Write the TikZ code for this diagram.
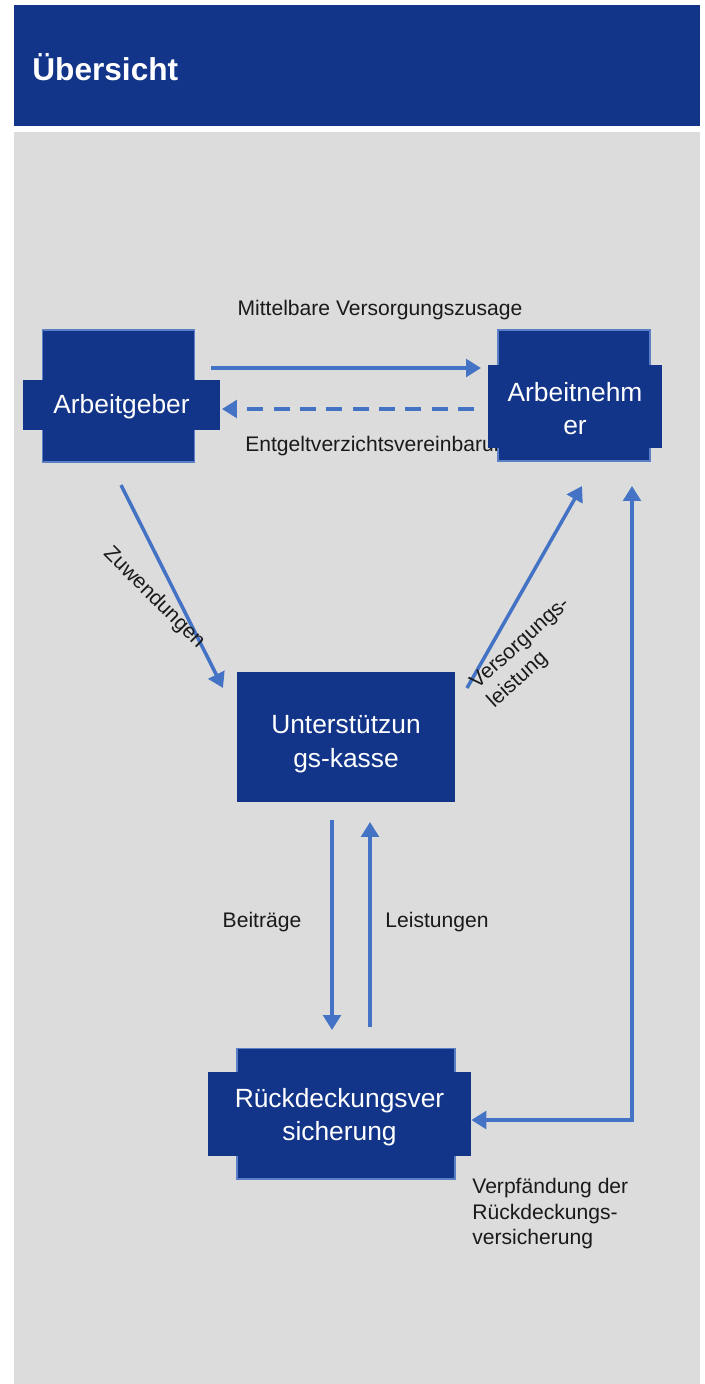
\documentclass[tikz,border=0pt]{standalone}
\usepackage{fontspec}
\setmainfont{Liberation Sans}
\usepackage{tikz}
\usetikzlibrary{calc,arrows.meta}
\usetikzlibrary{positioning}
\definecolor{uk-dark}{HTML}{133589}
\definecolor{uk-edge}{HTML}{5B7FC4}
\definecolor{uk-arrow}{HTML}{4472C4}
\definecolor{uk-panel}{HTML}{DCDCDC}
\definecolor{uk-text}{HTML}{1A1A1A}

\begin{document}
\begin{tikzpicture}[
    x=0.02cm, y=-0.02cm,
    back/.style={draw=uk-edge, line width=0.6pt, fill=uk-dark, inner sep=0pt},
    box/.style={fill=uk-dark, text=white, inner sep=0pt, align=center, font=\fontsize{15}{19}\selectfont},
    boxtext/.style={text=white, inner sep=0pt, align=center, font=\fontsize{15}{19}\selectfont},
    conn/.style={-{Triangle[length=8.5pt, width=10pt]}, draw=uk-arrow, line width=2pt},
    label/.style={font=\fontsize{12}{14.5}\selectfont, text=uk-text, inner sep=0pt}
]
\useasboundingbox (0,0) rectangle (705,1384);

% =========================================================================
% KOPF UND HINTERGRUND
% =========================================================================
\fill[uk-dark] (14,5) rectangle (700,126);
\fill[uk-panel] (14,132) rectangle (700,1384);
\node[anchor=west, inner sep=0pt, text=white, font=\fontsize{18}{22}\selectfont\bfseries] (title) at (32,67) {Übersicht};


% =========================================================================
% ARBEITGEBER / ARBEITNEHMER (oben)
% =========================================================================
\node[back, minimum width=3.04cm, minimum height=2.64cm] (ag_back) at (118.5,396) {};
\node[box, minimum width=3.94cm, minimum height=1.0cm] (ag) at (121.5,405) {};
\node[boxtext] (ag_text) at (121.5,407) {Arbeitgeber};

% Beschriftung liegt unter dem Arbeitnehmer-Kasten
\node[label, anchor=west] (verzicht) at (245,446) {Entgeltverzichtsvereinbarung};

\node[back, minimum width=3.04cm, minimum height=2.62cm] (an_back) at (574,395.5) {};
\node[box, minimum width=3.48cm, minimum height=1.66cm] (an) at (575,406.5) {};
\node[boxtext] (an_text) at (575,408.5) {Arbeitnehm\\er};

\coordinate (zusage_s) at (211,368);
\coordinate (zusage_e) at (481,368);
\draw[conn] (zusage_s) -- (zusage_e);
\node[label] (zusage) at (380,310) {Mittelbare Versorgungszusage};

\coordinate (verzicht_s) at (474,409);
\coordinate (verzicht_e) at (222,409);
\draw[conn, dash pattern=on 9pt off 6pt] (verzicht_s) -- (verzicht_e);


% =========================================================================
% UNTERSTÜTZUNGSKASSE (Mitte)
% =========================================================================
\node[box, minimum width=4.36cm, minimum height=2.62cm] (uk) at (346,737) {};
\node[boxtext] (uk_text) at (346,744) {Unterstützun\\gs-kasse};

\coordinate (zuw_s) at (121,485);
\coordinate (zuw_e) at (223,688);
\draw[conn] (zuw_s) -- (zuw_e);
\node[label, rotate=-45] (zuw) at (154,598) {Zuwendungen};

\coordinate (vl_s) at (467,688);
\coordinate (vl_e) at (582,486);
\draw[conn] (vl_s) -- (vl_e);
\node[label, rotate=42, align=left] (vl) at (529,653) {Versorgungs-\\leistung};


% =========================================================================
% RÜCKDECKUNGSVERSICHERUNG (unten)
% =========================================================================
\node[back, minimum width=4.36cm, minimum height=2.62cm] (rv_back) at (346,1113.5) {};
\node[box, minimum width=5.26cm, minimum height=1.68cm] (rv) at (339.5,1114) {};
\node[boxtext] (rv_text) at (339.5,1117) {Rückdeckungsver\\sicherung};

\coordinate (beitr_s) at (332,820);
\coordinate (beitr_e) at (332,1030);
\draw[conn] (beitr_s) -- (beitr_e);
\node[label] (beitr) at (262,922) {Beiträge};

\coordinate (leist_s) at (370,1027);
\coordinate (leist_e) at (370,822);
\draw[conn] (leist_s) -- (leist_e);
\node[label] (leist) at (437,922) {Leistungen};


% =========================================================================
% VERPFÄNDUNG (rechts, Pfeil mit zwei Spitzen)
% =========================================================================
\coordinate (pf_top) at (632,486);
\coordinate (pf_corner) at (632,1120);
\draw[conn, {Triangle[length=8.5pt, width=10pt]}-{Triangle[length=8.5pt, width=10pt]}]
    (rv.east |- pf_corner) -- (pf_corner) -- (pf_top);
\node[label, anchor=north west, align=left] (pfand) at (472,1178)
    {Verpfändung der\\Rückdeckungs-\\versicherung};

\end{tikzpicture}
\end{document}
